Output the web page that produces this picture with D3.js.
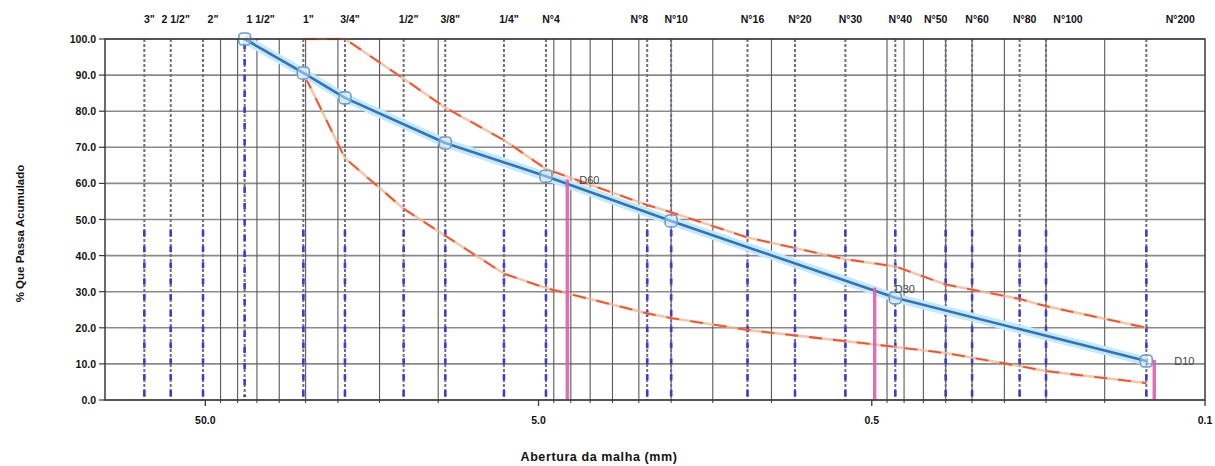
<!DOCTYPE html>
<html><head><meta charset="utf-8">
<script src="https://cdn.jsdelivr.net/npm/d3@7"></script>
<style>
body{margin:0;background:#fff;}
svg{display:block;font-family:"Liberation Sans",Arial,sans-serif;}
</style>
</head><body><svg id="c" width="1215" height="466"></svg>
<script>
// ---------------- data ----------------
const sieveLabels = ['3"','2 1/2"','2"','1 1/2"','1"','3/4"','1/2"','3/8"','1/4"','N°4','N°8','N°10','N°16','N°20','N°30','N°40','N°50','N°60','N°80','N°100','N°200'];
const sieveSizes  = [76.2,63.5,50.8,38.1,25.4,19.05,12.7,9.525,6.35,4.75,2.36,2.0,1.18,0.85,0.6,0.425,0.3,0.25,0.18,0.15,0.075];

const sampleSizes   = [38.1,25.4,19.05,9.525,4.75,2.0,0.425,0.075];
const samplePassing = [100,90.6,83.7,71.2,62.0,49.6,28.3,10.8];

const upperSizes   = [25.4,19.05,12.7,9.525,6.35,4.75,2.36,2.0,1.18,0.6,0.425,0.3,0.18,0.15,0.075];
const upperPassing = [100,100,89,81,72,64,54,52,45,39,37,32,28,26,20];

const lowerSizes   = [38.1,25.4,19.05,12.7,9.525,6.35,4.75,2.36,2.0,1.18,0.6,0.425,0.3,0.18,0.15,0.075];
const lowerPassing = [100,90.6,67,53,45.5,35,31,24,22.7,19.4,16.3,14.7,13,9.4,8,4.7];

const dLabels  = ['D60','D30','D10'];
const dSizes   = [4.1,0.49,0.071];
const dPassing = [60,30,10];

const xTickValues = [50,5,0.5,0.05];
const xTickLabels = ['50.0','5.0','0.5','0.1'];
const yTickValues = [0,10,20,30,40,50,60,70,80,90,100];
const minorGridValues = [45,40,35,30,25,20,15,10,4.5,4,3.5,3,2.5,2,1.5,1,0.45,0.4,0.35,0.3,0.25,0.2,0.15,0.1];

// ---------------- layout ----------------
const L = 105, R = 1205, T = 39, B = 400;
const svg = d3.select('#c');
const x = d3.scaleLog().domain([100, 0.05]).range([L, R]);
const y = d3.scaleLinear().domain([0, 100]).range([B, T]);

const g = svg.append('g');

// horizontal grid
g.append('g').selectAll('line').data(yTickValues).join('line')
  .attr('x1', L).attr('x2', R).attr('y1', d => y(d)).attr('y2', d => y(d))
  .attr('stroke', '#8a8a8a').attr('stroke-width', 1.6);

// vertical minor grid
g.append('g').selectAll('line').data(minorGridValues).join('line')
  .attr('x1', d => x(d)).attr('x2', d => x(d)).attr('y1', T).attr('y2', B)
  .attr('stroke', '#5a5a5a').attr('stroke-width', 1.1);

// sieve lines
const sieves = sieveSizes.map((s, i) => ({s, label: sieveLabels[i]}));
g.append('g').selectAll('line').data(sieves).join('line')
  .attr('x1', d => x(d.s)).attr('x2', d => x(d.s)).attr('y1', T).attr('y2', B)
  .attr('stroke', '#6e6e86').attr('stroke-width', 2).attr('stroke-dasharray', '3,2');
g.append('g').selectAll('line').data(sieves).join('line')
  .attr('x1', d => x(d.s)).attr('x2', d => x(d.s))
  .attr('y1', d => d.label === '1 1/2"' ? T + 4 : y(47)).attr('y2', B - 3)
  .attr('stroke', '#3b3bd6').attr('stroke-width', 2.6).attr('stroke-dasharray', '6,10');

// sieve labels
const labelNudge = {'N°100': 22, 'N°200': 34, '2"': 10, '1 1/2"': 16, 'N°8': -8, 'N°50': -10};
svg.append('g').selectAll('text').data(sieves).join('text')
  .attr('x', d => x(d.s) + (labelNudge[d.label] !== undefined ? labelNudge[d.label] : 5))
  .attr('y', 23).attr('text-anchor', 'middle')
  .attr('font-size', 10.5).attr('font-weight', 'bold').attr('fill', '#111')
  .text(d => d.label);

// envelopes
const line = d3.line().x(d => x(d[0])).y(d => y(d[1]));
const upper = upperSizes.map((s, i) => [s, upperPassing[i]]);
const lower = lowerSizes.map((s, i) => [s, lowerPassing[i]]);
[upper, lower].forEach(data => {
  g.append('path').datum(data).attr('d', line).attr('fill', 'none')
    .attr('stroke', '#f0b690').attr('stroke-width', 2.6).attr('opacity', 0.75);
  g.append('path').datum(data).attr('d', line).attr('fill', 'none')
    .attr('stroke', '#ff4a26').attr('stroke-width', 1.8).attr('stroke-dasharray', '13,11');
});

// sample curve
const sample = sampleSizes.map((s, i) => [s, samplePassing[i]]);
g.append('path').datum(sample).attr('d', line).attr('fill', 'none')
  .attr('stroke', '#c4eafa').attr('stroke-width', 9).attr('stroke-linejoin', 'round');
g.append('path').datum(sample).attr('d', line).attr('fill', 'none')
  .attr('stroke', '#3272bc').attr('stroke-width', 2.6).attr('stroke-linejoin', 'round');

// D lines
const dData = dSizes.map((s, i) => ({s, p: dPassing[i], label: dLabels[i]}));
g.append('g').selectAll('line').data(dData).join('line')
  .attr('x1', d => x(d.s)).attr('x2', d => x(d.s)).attr('y1', d => y(d.p) - 4).attr('y2', B)
  .attr('stroke', '#e25cae').attr('stroke-width', 3.4).attr('opacity', 0.9);

// markers
g.append('g').selectAll('rect').data(sample).join('rect')
  .attr('x', d => x(d[0]) - 6).attr('y', d => y(d[1]) - 6)
  .attr('width', 12).attr('height', 12).attr('rx', 4)
  .attr('fill', 'rgba(225,240,252,0.45)').attr('stroke', '#6f9cc8').attr('stroke-width', 1.6);

// D labels
const dNudge = {'D60': 12, 'D30': 20, 'D10': 20};
svg.append('g').selectAll('text').data(dData).join('text')
  .attr('x', d => x(d.s) + dNudge[d.label]).attr('y', d => y(d.p) + 1)
  .attr('font-size', 11).attr('fill', '#444')
  .text(d => d.label);

// frame
svg.append('rect').attr('x', L).attr('y', T).attr('width', R - L).attr('height', B - T)
  .attr('fill', 'none').attr('stroke', '#3a3a3a').attr('stroke-width', 1.5);

// y axis ticks & labels
svg.append('g').selectAll('line').data(yTickValues).join('line')
  .attr('x1', L - 6).attr('x2', L).attr('y1', d => y(d)).attr('y2', d => y(d))
  .attr('stroke', '#3a3a3a').attr('stroke-width', 1.2);
svg.append('g').selectAll('text').data(yTickValues).join('text')
  .attr('x', L - 9).attr('y', d => y(d) + 4).attr('text-anchor', 'end')
  .attr('font-size', 10.5).attr('font-weight', 'bold').attr('fill', '#111')
  .text(d => d3.format('.1f')(d));

// x axis ticks & labels
svg.append('g').selectAll('line').data(minorGridValues).join('line')
  .attr('x1', d => x(d)).attr('x2', d => x(d)).attr('y1', B).attr('y2', B + 3)
  .attr('stroke', '#3a3a3a').attr('stroke-width', 1);
svg.append('g').selectAll('line').data(xTickValues).join('line')
  .attr('x1', d => x(d)).attr('x2', d => x(d)).attr('y1', B).attr('y2', B + 6)
  .attr('stroke', '#3a3a3a').attr('stroke-width', 1.3);
svg.append('g').selectAll('text').data(xTickValues).join('text')
  .attr('x', d => x(d)).attr('y', B + 24).attr('text-anchor', 'middle')
  .attr('font-size', 10.5).attr('font-weight', 'bold').attr('fill', '#111')
  .text((d, i) => xTickLabels[i]);

// axis titles
svg.append('text').attr('x', 599).attr('y', 461).attr('text-anchor', 'middle')
  .attr('font-size', 12.5).attr('font-weight', 'bold').attr('fill', '#111')
  .attr('letter-spacing', 0.6)
  .text('Abertura da malha (mm)');
svg.append('text').attr('transform', `translate(24,${(T + B) / 2 + 14}) rotate(-90)`)
  .attr('text-anchor', 'middle')
  .attr('font-size', 11.5).attr('font-weight', 'bold').attr('fill', '#111')
  .text('% Que Passa Acumulado');
</script>
</body></html>
